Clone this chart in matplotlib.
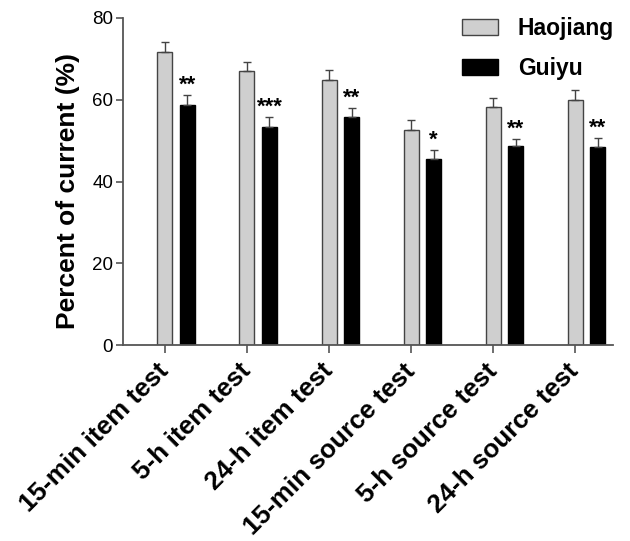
import numpy as np
from matplotlib import pyplot as plt
from matplotlib.patches import Patch

categories = ['15-min item test', '5-h item test', '24-h item test',
              '15-min source test', '5-h source test', '24-h source test']
haojiang = [71.6, 66.9, 64.7, 52.7, 58.2, 59.8]
haojiang_err = [2.5, 2.3, 2.5, 2.4, 2.3, 2.5]
guiyu = [58.7, 53.4, 55.8, 45.6, 48.7, 48.5]
guiyu_err = [2.5, 2.3, 2.1, 2.2, 1.8, 2.2]
stars = ['**', '***', '**', '*', '**', '**']

plt.rcParams['font.family'] = ['Liberation Sans', 'DejaVu Sans']

fig = plt.figure(figsize=(6.3, 5.41), dpi=100)
ax = fig.add_axes([0.195, 0.362, 0.778, 0.605])

x = np.arange(len(categories))
w = 0.183
off = 0.274
edge = '#444444'

ax.bar(x, haojiang, w, color='#cfcfcf', edgecolor=edge, linewidth=1)
ax.errorbar(x, haojiang, yerr=[np.zeros(6), haojiang_err], fmt='none',
            ecolor=edge, elinewidth=1, capsize=3, capthick=1)
ax.bar(x + off, guiyu, w, color='black', edgecolor='black', linewidth=1)
ax.errorbar(x + off, guiyu, yerr=[np.zeros(6), guiyu_err], fmt='none',
            ecolor=edge, elinewidth=1, capsize=3, capthick=1)

for xi, v, e, s in zip(x + off, guiyu, guiyu_err, stars):
    ax.text(xi, v + e - 0.2, s, ha='center', va='bottom',
            fontsize=16, fontweight='bold')

ax.set_xlim(-0.512, 5.46)
ax.set_ylim(0, 80)
ax.set_yticks([0, 20, 40, 60, 80])
ax.set_xticks(x)
ax.set_xticklabels(categories, rotation=45, ha='right', va='center',
                   rotation_mode='anchor', fontsize=18.8, fontweight='bold')
ax.tick_params(axis='y', labelsize=13.5, length=5, width=1.2,
               color='#555555', pad=2)
ax.tick_params(axis='x', length=6, width=1.2, color='#555555', pad=10)
ax.set_ylabel('Percent of current (%)', fontsize=19, fontweight='bold')
ax.yaxis.set_label_coords(-0.088, 0.471)

for side in ['top', 'right']:
    ax.spines[side].set_visible(False)
for side in ['left', 'bottom']:
    ax.spines[side].set_linewidth(1.3)
    ax.spines[side].set_color('#555555')

handles = [Patch(facecolor='#cfcfcf', edgecolor=edge, label='Haojiang'),
           Patch(facecolor='black', edgecolor='black', label='Guiyu')]
leg = ax.legend(handles=handles, loc='upper left',
                bbox_to_anchor=(462 / 630, 1 - 17 / 541),
                bbox_transform=fig.transFigure, borderpad=0,
                borderaxespad=0, frameon=False,
                prop={'weight': 'bold', 'size': 16.5},
                handlelength=1.57, handleheight=0.65, labelspacing=0.75,
                handletextpad=0.87)

fig.savefig('out.png', dpi=100)
